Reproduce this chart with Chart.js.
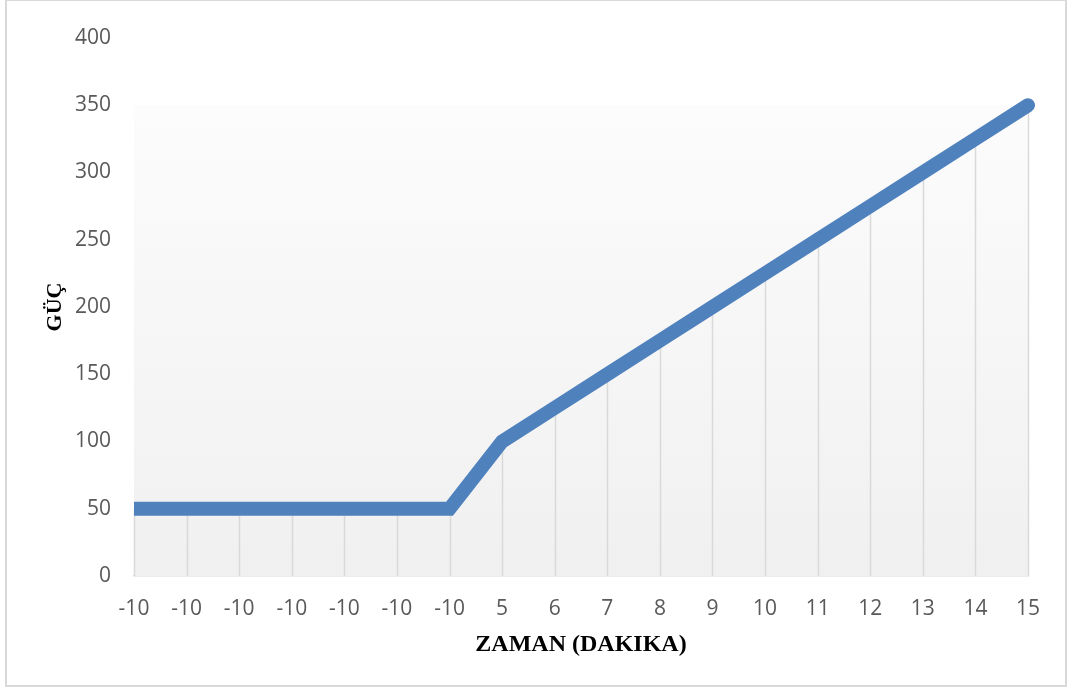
<!DOCTYPE html>
<html>
<head>
<meta charset="utf-8">
<title>Güç - Zaman</title>
<script src="https://cdn.jsdelivr.net/npm/chart.js@4/dist/chart.umd.min.js"></script>
<style>
  html, body { margin: 0; padding: 0; background: #fff; }
  #wrap { width: 1068px; height: 691px; position: relative; }
</style>
</head>
<body>
<div id="wrap"><canvas id="guc"></canvas></div>
<script>
// zaman etiketleri (dakika) ve güç değerleri
var zamanEtiket = ['-10', '-10', '-10', '-10', '-10', '-10', '-10', '5', '6', '7', '8', '9', '10', '11', '12', '13', '14', '15'];
var gucDeger = [50, 50, 50, 50, 50, 50, 50, 100, 125, 150, 175, 200, 225, 250, 275, 300, 325, 350];
var yTikler = [0, 50, 100, 150, 200, 250, 300, 350, 400];

var CIZGI_RENK = '#4F81BD';
var EKSEN_GRI = '#d9d9d9';
var YAZI_GRI = '#595959';

// plot alanı arka planı + düşey düşme çizgileri
var dususCizgileri = {
	id: 'dususCizgileri',
	beforeDatasetsDraw: function (chart) {
		var ctx = chart.ctx;
		var area = chart.chartArea;
		var ys = chart.scales.y;
		var ust = ys.getPixelForValue(Math.max.apply(null, gucDeger));
		var alt = ys.getPixelForValue(0);

		ctx.save();
		var grad = ctx.createLinearGradient(0, ust, 0, alt);
		grad.addColorStop(0, '#fcfcfc');
		grad.addColorStop(1, '#f0f0f0');
		ctx.fillStyle = grad;
		ctx.fillRect(area.left, ust, area.right - area.left, alt - ust);

		ctx.strokeStyle = EKSEN_GRI;
		ctx.lineWidth = 1.5;
		chart.getDatasetMeta(0).data.forEach(function (pt) {
			ctx.beginPath();
			ctx.moveTo(Math.round(pt.x) + 0.5, pt.y);
			ctx.lineTo(Math.round(pt.x) + 0.5, alt);
			ctx.stroke();
		});
		ctx.restore();
	}
};

// dış çerçeve
var cerceve = {
	id: 'cerceve',
	afterDraw: function (chart) {
		var ctx = chart.ctx;
		ctx.save();
		ctx.strokeStyle = EKSEN_GRI;
		ctx.lineWidth = 2;
		ctx.strokeRect(6, 0, 1060, 686);
		ctx.restore();
	}
};

var ctx = document.getElementById('guc').getContext('2d');
new Chart(ctx, {
	type: 'line',
	data: {
		labels: zamanEtiket,
		datasets: [{
			label: 'Güç',
			data: gucDeger,
			borderColor: CIZGI_RENK,
			borderWidth: 14,
			borderCapStyle: 'round',
			borderJoinStyle: 'miter',
			pointRadius: 0,
			pointHoverRadius: 0,
			tension: 0,
			fill: false,
			clip: { left: 0, right: 8, top: 8, bottom: 8 }
		}]
	},
	options: {
		responsive: true,
		maintainAspectRatio: false,
		animation: false,
		events: [],
		layout: {
			padding: { left: 0, right: 40, top: 38, bottom: 0 }
		},
		plugins: {
			legend: { display: false },
			tooltip: { enabled: false }
		},
		scales: {
			x: {
				offset: false,
				grid: { display: false, drawTicks: false },
				border: { display: true, color: EKSEN_GRI, width: 1.5 },
				ticks: {
					color: YAZI_GRI,
					font: { family: '"Open Sans", sans-serif', size: 21 },
					padding: 20,
					maxRotation: 0,
					autoSkip: false
				},
				title: {
					display: true,
					text: 'ZAMAN (DAKIKA)',
					color: '#000',
					font: { family: '"Liberation Serif", "Times New Roman", serif', size: 24, weight: 'bold' },
					padding: { top: 0, bottom: 32 }
				},
				afterFit: function (scale) { scale.height = 115; }
			},
			y: {
				min: 0,
				max: 400,
				afterBuildTicks: function (scale) {
					scale.ticks = yTikler.map(function (v) { return { value: v }; });
				},
				grid: { display: false, drawTicks: false },
				border: { display: false },
				ticks: {
					color: YAZI_GRI,
					font: { family: '"Open Sans", sans-serif', size: 21 },
					padding: 23
				},
				title: {
					display: true,
					text: 'GÜÇ',
					color: '#000',
					font: { family: '"Liberation Serif", "Times New Roman", serif', size: 22, weight: 'bold' },
					padding: { top: 42, bottom: 0 }
				},
				afterFit: function (scale) { scale.width = 134; }
			}
		}
	},
	plugins: [dususCizgileri, cerceve]
});
</script>
</body>
</html>
